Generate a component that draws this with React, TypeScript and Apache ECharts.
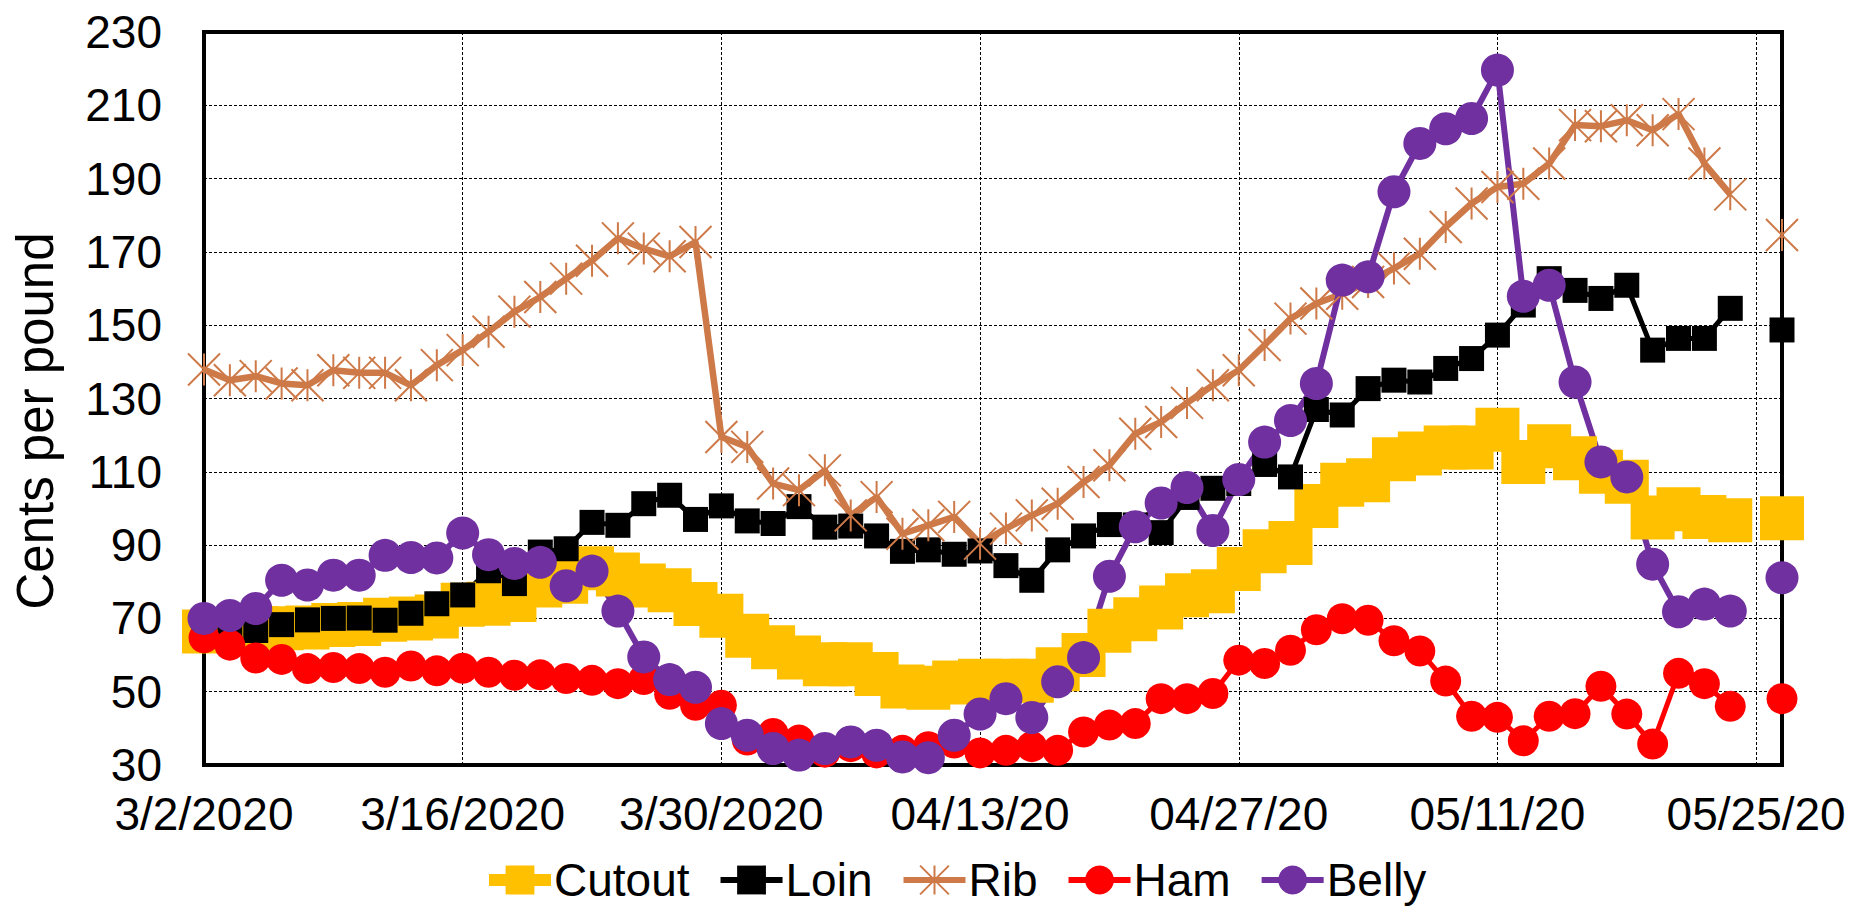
import React, { useEffect, useRef } from "react";
import * as echarts from "echarts";

const categories = [
  "3/2/2020", "3/3/2020", "3/4/2020", "3/5/2020", "3/6/2020",
  "3/9/2020", "3/10/2020", "3/11/2020", "3/12/2020", "3/13/2020",
  "3/16/2020", "3/17/2020", "3/18/2020", "3/19/2020", "3/20/2020",
  "3/23/2020", "3/24/2020", "3/25/2020", "3/26/2020", "3/27/2020",
  "3/30/2020", "3/31/2020", "04/01/20", "04/02/20", "04/03/20",
  "04/06/20", "04/07/20", "04/08/20", "04/09/20", "04/10/20",
  "04/13/20", "04/14/20", "04/15/20", "04/16/20", "04/17/20",
  "04/20/20", "04/21/20", "04/22/20", "04/23/20", "04/24/20",
  "04/27/20", "04/28/20", "04/29/20", "04/30/20", "05/01/20",
  "05/04/20", "05/05/20", "05/06/20", "05/07/20", "05/08/20",
  "05/11/20", "05/12/20", "05/13/20", "05/14/20", "05/15/20",
  "05/18/20", "05/19/20", "05/20/20", "05/21/20", "05/22/20",
  "05/25/20", "05/26/20",
];

const cutout = [
  66.4, 67, 67.3, 67.3, 67.5, 68.2, 68.5, 69.6, 70, 70.5,
  73.7, 74, 75, 79, 80, 83.7, 82, 79, 77.7, 73.9,
  70.7, 65.3, 62.1, 59.3, 57.5, 57.5, 54.8, 51.4, 51.1, 52.5,
  53, 53, 53, 56.1, 60, 66.6, 69.8, 73, 76.3, 77.4,
  83.5, 88.3, 90.6, 100.7, 106.5, 107.7, 113.4, 115, 116.6, 116.6,
  121.5, 112.7, 117, 113.7, 110, 107.3, 97.5, 99.8, 97.7, 96.8,
  null, 97.3,
];

const loin = [
  68.5, 67.5, 66.7, 68.3, 69.6, 70, 70.1, 69.5, 71.4, 74,
  76.4, 83, 79.5, 88.1, 89, 96.2, 95.4, 101.3, 103.6, 97,
  100.7, 96.6, 95.9, 100.5, 94.9, 95.2, 92.5, 88.3, 88.7, 87.5,
  88.4, 84.4, 80.4, 88.7, 92.5, 95.6, 95.5, 93.4, 103, 105.5,
  106.8, 112, 108.6, 127, 125.5, 132.7, 135, 134.5, 138.2, 140.9,
  147.3, 155.5, 162.7, 159.5, 157.3, 160.9, 143.2, 146.4, 146.4, 154.6,
  null, 148.7,
];

const rib = [
  137.9, 135, 136.1, 134.1, 133.6, 137.7, 137, 137, 133.6, 139.1,
  143.2, 148.2, 153.7, 157.7, 162.7, 167.6, 173.7, 170.9, 168.8, 172.7,
  119.5, 116.8, 106.8, 105, 110.4, 98.1, 103.1, 93.1, 95.4, 97.7,
  90.4, 94.5, 98.1, 101.3, 107.2, 111.8, 120.4, 123.6, 128.8, 133.6,
  137.7, 144.6, 151.8, 155.9, 158.6, 161.8, 165.5, 169.5, 176.8, 183.2,
  187.7, 188.6, 194.1, 204.6, 204.3, 205.9, 203.2, 207.6, 194.1, 185.7,
  null, 174.6,
];

const ham = [
  64.7, 62.7, 59.2, 58.8, 56.3, 56.6, 56.3, 55.3, 57, 55.7,
  56.4, 55.3, 54.5, 54.6, 53.6, 53.1, 52.2, 53.3, 49.3, 46.3,
  46.3, 36.8, 38.6, 36.8, 33.5, 35, 33.3, 34, 35, 36,
  33.3, 34, 35, 34, 39, 40.9, 41.3, 48.1, 48.1, 49.5,
  58.6, 57.7, 61.3, 66.9, 69.9, 69.5, 63.9, 61.1, 52.9, 43.3,
  43, 36.6, 43.3, 44, 51.5, 43.9, 35.7, 55, 52.2, 46,
  null, 48.1,
];

const belly = [
  70, 70.8, 72.7, 80.4, 79.1, 81.8, 81.8, 87.2, 86.6, 86.5,
  93.3, 87.4, 85, 85.3, 78.9, 82.9, 72, 59.5, 53.3, 51.2,
  41.3, 38.1, 34.5, 32.7, 34.5, 36.3, 35.4, 32.2, 32, 38.1,
  43.9, 48.1, 42.95, 52.7, 59.3, 81.5, 95, 101.5, 105.7, 94,
  107.9, 118.1, 124, 134.1, 162.3, 163.2, 186.4, 199.6, 203.6, 206.4,
  219.6, 157.9, 160.9, 134.5, 112.7, 108.6, 84.8, 71.8, 73.9, 72,
  null, 81.1,
];

const FONT = "'Liberation Sans', Arial, sans-serif";
const RIB_COLOR = "#CE7948";
const RIB_SYMBOL = "path://M0 0L32 32M32 0L0 32M16 0L16 32";

export default function App() {
  const ref = useRef<HTMLDivElement>(null);

  useEffect(() => {
    if (!ref.current) return;
    const chart = echarts.init(ref.current, null, { renderer: "svg" });

    const mk = (name: string, data: (number | null)[], color: string, symbol: string, size: number, lw: number, extra: any = {}) => ({
      name,
      type: "line",
      data,
      symbol,
      symbolSize: size,
      showAllSymbol: true,
      connectNulls: false,
      lineStyle: { color, width: lw },
      itemStyle: { color, borderWidth: 0 },
      emphasis: { disabled: true },
      ...extra,
    });

    chart.setOption({
      animation: false,
      textStyle: { fontFamily: FONT },
      grid: {
        left: 204,
        right: 72,
        top: 32,
        bottom: 141,
        show: true,
        borderColor: "#000",
        borderWidth: 4,
        containLabel: false,
      },
      legend: {
        left: 478,
        top: 852,
        itemWidth: 62,
        itemHeight: 36,
        itemGap: 28,
        textStyle: { fontSize: 46, lineHeight: 46, color: "#000", fontFamily: FONT, padding: [0, 0, 0, -2] },
        data: [
          { name: "Cutout", lineStyle: { width: 12 } },
          { name: "Loin", lineStyle: { width: 6 } },
          { name: "Rib", lineStyle: { width: 6 } },
          { name: "Ham", lineStyle: { width: 6 } },
          { name: "Belly", lineStyle: { width: 6 } },
        ],
      },
      xAxis: {
        type: "category",
        data: categories,
        boundaryGap: false,
        axisLine: { show: false },
        axisTick: { show: false },
        axisLabel: {
          interval: 9,
          fontSize: 46,
          color: "#000",
          fontFamily: FONT,
          margin: 26,
        },
        splitLine: {
          show: true,
          interval: 9,
          lineStyle: { color: "#000", width: 1, type: [3, 2] },
        },
      },
      yAxis: {
        type: "value",
        min: 30,
        max: 230,
        interval: 20,
        axisLine: { show: false },
        axisTick: { show: false },
        axisLabel: { fontSize: 46, color: "#000", fontFamily: FONT, margin: 42 },
        splitLine: { show: true, lineStyle: { color: "#000", width: 1, type: [3, 2] } },
      },
      graphic: [
        {
          type: "text",
          x: 35,
          y: 421,
          rotation: Math.PI / 2,
          style: {
            text: "Cents per pound",
            fontSize: 51,
            fontFamily: FONT,
            fill: "#000",
            align: "center",
            verticalAlign: "middle",
          },
        },
      ],
      series: [
        mk("Cutout", cutout, "#FFC000", "rect", 44, 12),
        mk("Loin", loin, "#000000", "rect", 25, 5),
        mk("Rib", rib, RIB_COLOR, RIB_SYMBOL, 32, 6.5, {
          itemStyle: { color: RIB_COLOR, borderColor: RIB_COLOR, borderWidth: 2 },
        }),
        mk("Ham", ham, "#FF0000", "circle", 31, 5),
        mk("Belly", belly, "#7030A0", "circle", 33, 6),
      ],
    });

    return () => chart.dispose();
  }, []);

  return (
    <div
      ref={ref}
      style={{ position: "absolute", left: 0, top: 0, width: 1854, height: 906 }}
    />
  );
}
